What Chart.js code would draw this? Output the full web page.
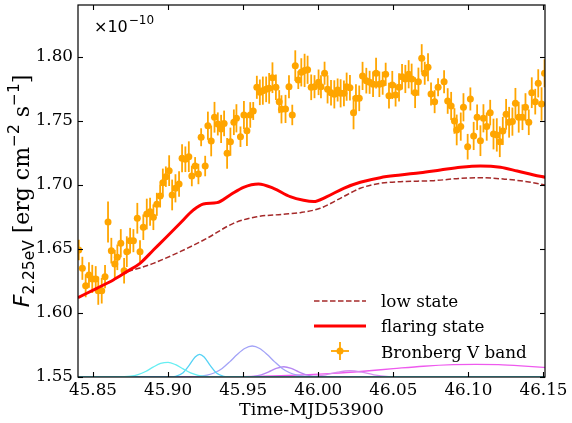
<!DOCTYPE html>
<html><head><meta charset="utf-8">
<script src="https://cdn.jsdelivr.net/npm/chart.js@4.4.0/dist/chart.umd.min.js"></script>
<style>html,body{margin:0;padding:0;background:#fff;}#wrap{width:572px;height:423px;}</style>
</head><body><div id="wrap"><canvas id="c" width="572" height="423"></canvas></div>
<script>
// ---------- data ----------
const xTicks = [45.85, 45.90, 45.95, 46.00, 46.05, 46.10, 46.15];
const yTicks = [1.55, 1.60, 1.65, 1.70, 1.75, 1.80];
const legendLabels = ['low state', 'flaring state', 'Bronberg V band'];
const xTitle = 'Time-MJD53900';

const dataTime = [45.8405,45.8429,45.8451,45.8473,45.8495,45.8518,45.8535,45.8558,45.8580,45.8600,45.8622,45.8645,45.8662,45.8685,45.8707,45.8725,45.8747,45.8769,45.8795,45.8813,45.8835,45.8858,45.8880,45.8902,
45.8925,45.8947,45.8965,45.8985,45.9007,45.9027,45.9049,45.9073,45.9093,45.9115,45.9138,45.9158,45.9180,45.9202,45.9220,45.9247,45.9265,45.9287,45.9309,45.9331,45.9353,45.9373,45.9393,45.9415,
45.9438,45.9455,45.9482,45.9505,45.9525,45.9547,45.9567,45.9591,45.9611,45.9631,45.9653,45.9673,45.9695,45.9718,45.9740,45.9755,45.9782,45.9805,45.9827,45.9847,45.9867,45.9887,45.9909,45.9929,
45.9953,45.9975,46.0002,46.0018,46.0042,46.0062,46.0085,46.0107,46.0129,46.0149,46.0171,46.0189,46.0211,46.0235,46.0251,46.0273,46.0295,46.0320,46.0342,46.0365,46.0385,46.0407,46.0429,46.0449,
46.0471,46.0493,46.0515,46.0538,46.0558,46.0580,46.0602,46.0622,46.0645,46.0667,46.0689,46.0709,46.0731,46.0751,46.0775,46.0798,46.0838,46.0862,46.0885,46.0907,46.0922,46.0949,46.0967,
46.0995,46.1013,46.1035,46.1058,46.1080,46.1100,46.1122,46.1145,46.1167,46.1189,46.1209,46.1229,46.1251,46.1271,46.1293,46.1313,46.1335,46.1360,46.1380,46.1402,46.1422,46.1445,46.1465,46.1487,46.1507];
const dataFlux = [1.6492,1.6349,1.6213,1.6297,1.6266,1.6266,1.6174,1.6174,1.6284,1.6711,1.6487,1.6383,1.6435,1.6545,1.6330,1.6479,1.6565,1.6565,1.6740,1.6479,1.6670,1.6773,1.6791,1.6748,
1.6849,1.6914,1.7018,1.7065,1.7112,1.6922,1.6974,1.7008,1.7209,1.7201,1.7221,1.7070,1.7148,1.7086,1.7373,1.7148,1.7463,1.7344,1.7529,1.7477,1.7438,1.7481,1.7247,1.7338,
1.7490,1.7521,1.7377,1.7547,1.7424,1.7547,1.7578,1.7763,1.7724,1.7737,1.7747,1.7755,1.7838,1.7763,1.7651,1.7591,1.7594,1.7768,1.7547,1.7932,1.7820,1.7880,1.7895,1.7900,
1.7763,1.7768,1.7802,1.7768,1.7873,1.7747,1.7721,1.7708,1.7742,1.7716,1.7716,1.7768,1.7760,1.7565,1.7677,1.7677,1.7852,1.7815,1.7802,1.7787,1.7873,1.7787,1.7795,1.7865,
1.7698,1.7781,1.7703,1.7763,1.7846,1.7828,1.7865,1.7828,1.7721,1.7807,1.7990,1.7873,1.7920,1.7711,1.7651,1.7763,1.7807,1.7656,1.7617,1.7500,1.7430,1.7456,1.7607,
1.7299,1.7672,1.7383,1.7529,1.7346,1.7521,1.7456,1.7565,1.7398,1.7391,1.7338,1.7422,1.7552,1.7490,1.7495,1.7638,1.7529,1.7529,1.7607,1.7490,1.7721,1.7651,1.7794,1.7633,1.7873];
const dataErr = [0.008,0.009,0.009,0.010,0.011,0.010,0.011,0.010,0.009,0.016,0.010,0.011,0.010,0.011,0.010,0.012,0.010,0.009,0.012,0.009,0.010,0.012,0.011,0.010,
0.009,0.009,0.011,0.008,0.012,0.012,0.011,0.010,0.011,0.010,0.012,0.008,0.007,0.008,0.007,0.008,0.011,0.012,0.012,0.009,0.011,0.010,0.012,0.011,
0.010,0.011,0.008,0.011,0.012,0.010,0.007,0.009,0.010,0.011,0.010,0.012,0.012,0.010,0.009,0.011,0.011,0.009,0.008,0.012,0.007,0.011,0.013,0.011,
0.010,0.009,0.010,0.009,0.009,0.011,0.010,0.011,0.009,0.011,0.010,0.011,0.010,0.013,0.011,0.010,0.011,0.010,0.009,0.010,0.012,0.010,0.009,0.009,
0.010,0.011,0.009,0.011,0.010,0.011,0.011,0.012,0.012,0.011,0.011,0.009,0.011,0.009,0.009,0.007,0.009,0.010,0.011,0.010,0.012,0.011,0.011,
0.010,0.009,0.011,0.010,0.012,0.011,0.011,0.010,0.012,0.013,0.012,0.011,0.012,0.012,0.011,0.012,0.012,0.010,0.011,0.010,0.012,0.010,0.011,0.013,0.011];

const flareTime = [45.840,45.8525,45.8635,45.8725,45.8813,45.8902,45.8991,45.908,45.9169,45.9235,45.9325,45.9413,45.9502,45.9602,45.9702,45.9813,45.9902,45.9969,46.0058,46.0169,46.028,46.0413,46.0547,46.068,46.0813,46.0947,46.108,46.1213,46.1325,46.1435,46.1513];
const flareFlux = [1.6120,1.6193,1.6258,1.6323,1.6388,1.6492,1.6596,1.6701,1.6805,1.6852,1.6862,1.6922,1.6982,1.7008,1.6974,1.6909,1.6880,1.6870,1.6909,1.6974,1.7021,1.7057,1.7078,1.7096,1.7117,1.7138,1.7148,1.7138,1.7109,1.7078,1.7060];

const lowTime = [45.840,45.8525,45.8635,45.8725,45.8813,45.8902,45.908,45.9258,45.9435,45.9591,45.9769,45.988,46.0013,46.0147,46.028,46.0413,46.0547,46.0769,46.0947,46.108,46.1258,46.1391,46.1513];
const lowFlux = [1.6120,1.6193,1.6258,1.6320,1.6352,1.6388,1.6479,1.6583,1.6700,1.6752,1.6771,1.6784,1.6818,1.6896,1.6974,1.7013,1.7026,1.7034,1.7052,1.7057,1.7044,1.7026,1.7000];

const comp1Time = [45.84,45.86,45.87,45.875,45.88,45.885,45.89,45.895,45.90,45.905,45.91,45.915,45.92,45.925,45.93,45.94,46.16];
const comp1Flux = [1.5500,1.5500,1.5502,1.5506,1.5519,1.5543,1.5577,1.5606,1.5615,1.5596,1.5563,1.5532,1.5513,1.5504,1.5501,1.5500,1.5500];
const comp2Time = [45.84,45.90,45.905,45.91,45.914,45.918,45.921,45.924,45.928,45.932,45.937,45.942,46.16];
const comp2Flux = [1.5500,1.5500,1.5505,1.5533,1.5590,1.5656,1.5677,1.5656,1.5590,1.5533,1.5505,1.5500,1.5500];
const comp3Time = [45.84,45.91,45.916,45.921,45.926,45.931,45.936,45.941,45.946,45.951,45.956,45.961,45.966,45.971,45.976,45.981,45.986,45.991,45.996,46.003,46.16];
const comp3Flux = [1.5500,1.5500,1.5501,1.5505,1.5514,1.5533,1.5567,1.5618,1.5676,1.5723,1.5742,1.5723,1.5676,1.5618,1.5567,1.5533,1.5514,1.5505,1.5501,1.5500,1.5500];
const comp4Time = [45.84,45.947,45.952,45.957,45.962,45.967,45.972,45.977,45.982,45.987,45.992,45.997,46.002,46.007,46.16];
const comp4Flux = [1.5500,1.5500,1.5501,1.5505,1.5517,1.5540,1.5567,1.5580,1.5567,1.5540,1.5517,1.5505,1.5501,1.5500,1.5500];
const comp5Time = [45.84,45.975,45.985,45.995,46.005,46.013,46.021,46.029,46.037,46.047,46.057,46.07,46.16];
const comp5Flux = [1.5500,1.5500,1.5500,1.5503,1.5517,1.5538,1.5549,1.5538,1.5517,1.5503,1.5500,1.5500,1.5500];
const comp6Time = [45.84,45.92,45.95,45.97,45.99,46.01,46.03,46.05,46.07,46.09,46.105,46.12,46.135,46.15,46.16];
const comp6Flux = [1.5500,1.5501,1.5503,1.5508,1.5516,1.5528,1.5545,1.5565,1.5584,1.5596,1.5599,1.5596,1.5587,1.5575,1.5569];

// ---------- styles ----------
const ORANGE = '#ffa500';
const compColors = ['#66eef2','#55d2f5','#a3a3f7','#b686f2','#d68ef0','#ee5aee'];
const SERIF = "'DejaVu Serif', serif";
const SANS = "'DejaVu Sans', sans-serif";
const pts = (xs, ys) => xs.map((v, i) => ({x: v, y: ys[i]}));

const comps = [[comp1Time,comp1Flux],[comp2Time,comp2Flux],[comp3Time,comp3Flux],[comp4Time,comp4Flux],[comp5Time,comp5Flux],[comp6Time,comp6Flux]];

const datasets = [
  {label: legendLabels[1], data: pts(flareTime, flareFlux), showLine: true, borderColor: '#ff0000', borderWidth: 3, pointRadius: 0, cubicInterpolationMode: 'monotone'},
  {label: legendLabels[0], data: pts(lowTime, lowFlux), showLine: true, borderColor: '#a52a2a', borderWidth: 1.5, borderDash: [5.5, 2.5], pointRadius: 0, cubicInterpolationMode: 'monotone'},
  {label: legendLabels[2], data: pts(dataTime, dataFlux), showLine: false, pointRadius: 3.5, pointBackgroundColor: ORANGE, pointBorderWidth: 0, backgroundColor: ORANGE},
];
comps.forEach((c, i) => datasets.push({label: 'c' + i, data: pts(c[0], c[1]), showLine: true, borderColor: compColors[i], borderWidth: 1.3, pointRadius: 0, cubicInterpolationMode: 'monotone'}));
const DATA_IDX = 2;

const deco = {
  id: 'deco',
  beforeDatasetDraw(chart, args) {
    if (args.index !== DATA_IDX) return;
    const {ctx, chartArea: a, scales: {x, y}} = chart;
    ctx.save();
    ctx.beginPath(); ctx.rect(a.left, a.top, a.right - a.left, a.bottom - a.top); ctx.clip();
    ctx.strokeStyle = ORANGE; ctx.lineWidth = 1.8;
    dataTime.forEach((t, i) => {
      const px = x.getPixelForValue(t);
      ctx.beginPath();
      ctx.moveTo(px, y.getPixelForValue(dataFlux[i] - dataErr[i]));
      ctx.lineTo(px, y.getPixelForValue(dataFlux[i] + dataErr[i]));
      ctx.stroke();
    });
    ctx.restore();
  },
  afterDraw(chart) {
    const {ctx, chartArea: a, scales: {x, y}} = chart;
    ctx.save();
    ctx.strokeStyle = '#000'; ctx.lineWidth = 1.2;
    ctx.strokeRect(a.left, a.top, a.right - a.left, a.bottom - a.top);
    const TL = 5;
    ctx.lineWidth = 1.1;
    xTicks.forEach(v => {
      const p = Math.round(x.getPixelForValue(v)) + 0.5;
      ctx.beginPath(); ctx.moveTo(p, a.bottom); ctx.lineTo(p, a.bottom - TL); ctx.stroke();
      ctx.beginPath(); ctx.moveTo(p, a.top); ctx.lineTo(p, a.top + TL); ctx.stroke();
    });
    yTicks.forEach(v => {
      const p = Math.round(y.getPixelForValue(v)) + 0.5;
      ctx.beginPath(); ctx.moveTo(a.left, p); ctx.lineTo(a.left + TL, p); ctx.stroke();
      ctx.beginPath(); ctx.moveTo(a.right, p); ctx.lineTo(a.right - TL, p); ctx.stroke();
    });
    ctx.fillStyle = '#000';
    ctx.font = '17.5px ' + SERIF; ctx.textAlign = 'center'; ctx.textBaseline = 'alphabetic';
    ctx.fillText(xTitle, (a.left + a.right) / 2, 415);
    ctx.textAlign = 'left';
    ctx.font = '16px ' + SANS;
    ctx.fillText('\u00d710', 94, 32);
    let w = ctx.measureText('\u00d710').width;
    ctx.font = '12px ' + SANS;
    ctx.fillText('\u221210', 95 + w, 24);
    const segs = [
      {t: 'F', f: 'italic 22px ' + SANS, dy: 0},
      {t: '2.25eV', f: '15.4px ' + SANS, dy: 4.5},
      {t: ' [erg cm', f: '22px ' + SERIF, dy: 0},
      {t: '\u22122', f: '15.4px ' + SANS, dy: -10},
      {t: ' s', f: '22px ' + SERIF, dy: 0},
      {t: '\u22121', f: '15.4px ' + SANS, dy: -10},
      {t: ']', f: '22px ' + SERIF, dy: 0},
    ];
    let total = 0;
    segs.forEach(s => { ctx.font = s.f; s.w = ctx.measureText(s.t).width; total += s.w; });
    ctx.translate(29, (a.top + a.bottom) / 2);
    ctx.rotate(-Math.PI / 2);
    let cx = -total / 2;
    segs.forEach(s => { ctx.font = s.f; ctx.fillText(s.t, cx, s.dy); cx += s.w; });
    ctx.setTransform(1, 0, 0, 1, 0, 0);
    const lx0 = 314, lx1 = 366, tx = 381;
    const rows = [301, 326, 351];
    ctx.strokeStyle = '#a52a2a'; ctx.lineWidth = 1.5; ctx.setLineDash([5.5, 2.5]);
    ctx.beginPath(); ctx.moveTo(lx0, rows[0]); ctx.lineTo(lx1, rows[0]); ctx.stroke();
    ctx.setLineDash([]);
    ctx.strokeStyle = '#ff0000'; ctx.lineWidth = 3;
    ctx.beginPath(); ctx.moveTo(lx0, rows[1]); ctx.lineTo(lx1, rows[1]); ctx.stroke();
    const mx = (lx0 + lx1) / 2;
    ctx.strokeStyle = ORANGE; ctx.lineWidth = 1.8;
    ctx.beginPath(); ctx.moveTo(mx - 9, rows[2]); ctx.lineTo(mx + 9, rows[2]); ctx.stroke();
    ctx.beginPath(); ctx.moveTo(mx, rows[2] - 9); ctx.lineTo(mx, rows[2] + 9); ctx.stroke();
    ctx.fillStyle = ORANGE;
    ctx.beginPath(); ctx.arc(mx, rows[2], 3.5, 0, Math.PI * 2); ctx.fill();
    ctx.fillStyle = '#000'; ctx.font = '16.8px ' + SERIF; ctx.textAlign = 'left';
    ctx.fillText(legendLabels[0], tx, 306.5);
    ctx.fillText(legendLabels[1], tx, 332);
    ctx.fillText(legendLabels[2], tx, 357.5);
    ctx.restore();
  }
};

new Chart(document.getElementById('c'), {
  type: 'scatter',
  data: {datasets},
  options: {
    responsive: false, animation: false, devicePixelRatio: 1,
    layout: {padding: {top: 5, right: 27, left: 0, bottom: 0}},
    plugins: {legend: {display: false}, tooltip: {enabled: false}},
    scales: {
      x: {
        type: 'linear', min: 45.84, max: 46.151,
        afterBuildTicks: s => { s.ticks = xTicks.map(v => ({value: v})); },
        afterFit: s => { s.height = 46; s.paddingLeft = 0; s.paddingRight = 0; },
        grid: {display: false, drawTicks: false}, border: {display: false},
        ticks: {autoSkip: false, maxRotation: 0, padding: 4, color: '#000', font: {family: SERIF, size: 16.8}, callback: v => v.toFixed(2)}
      },
      y: {
        type: 'linear', min: 1.55, max: 1.8406,
        afterBuildTicks: s => { s.ticks = yTicks.map(v => ({value: v})); },
        afterFit: s => { s.width = 78; s.paddingTop = 0; s.paddingBottom = 0; },
        grid: {display: false, drawTicks: false}, border: {display: false},
        ticks: {autoSkip: false, padding: 5, color: '#000', font: {family: SERIF, size: 16.8}, callback: v => v.toFixed(2)}
      }
    }
  },
  plugins: [deco]
});
</script></body></html>
